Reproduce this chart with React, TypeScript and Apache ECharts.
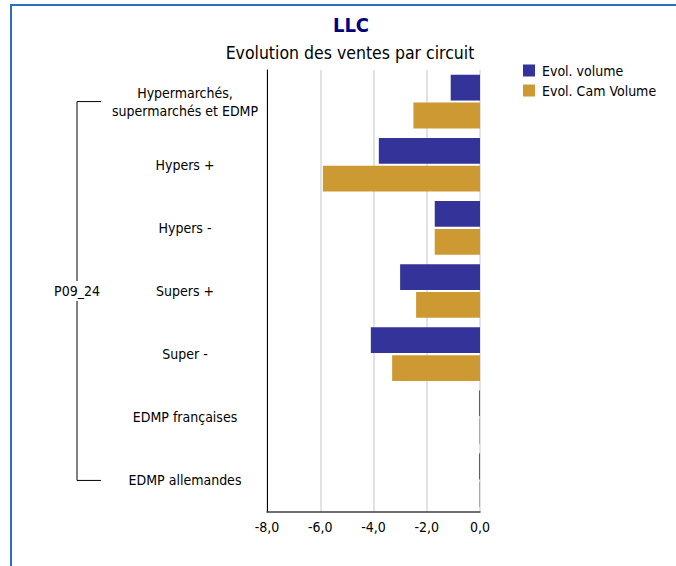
import React, { useEffect, useRef } from "react";
import * as echarts from "echarts";

const categories = [
  "Hypermarchés,\nsupermarchés et EDMP",
  "Hypers +",
  "Hypers -",
  "Supers +",
  "Super -",
  "EDMP françaises",
  "EDMP allemandes",
];
const evolVolume = [-1.1, -3.8, -1.7, -3.0, -4.1, -0.03, -0.03];
const evolCamVolume = [-2.5, -5.9, -1.7, -2.4, -3.3, -0.03, -0.03];
const seriesNames = ["Evol. volume", "Evol. Cam Volume"];
const groupLabel = "P09_24";
const xTicks = { min: -8, max: 0, interval: 2 };

const FONT = "'DejaVu Sans Condensed', 'DejaVu Sans', sans-serif";

export default function App() {
  const ref = useRef<HTMLDivElement>(null);
  useEffect(() => {
    document.body.style.margin = "0";
    const chart = echarts.init(ref.current!, null, { renderer: "svg" });
    const option: any = {
      animation: false,
      backgroundColor: "#ffffff",
      textStyle: { fontFamily: FONT },
      grid: { left: 267, right: 196, top: 70, bottom: 54, containLabel: false },
      legend: {
        orient: "vertical",
        left: 523,
        top: 62,
        padding: 0,
        icon: "rect",
        itemWidth: 12,
        itemHeight: 12,
        itemGap: 3,
        textStyle: { fontFamily: FONT, fontSize: 14, color: "#000", lineHeight: 17, padding: [0, 0, 0, 2] },
        data: seriesNames,
      },
      xAxis: {
        type: "value",
        min: xTicks.min,
        max: xTicks.max,
        interval: xTicks.interval,
        axisLine: { show: true, lineStyle: { color: "#404040", width: 1.5 } },
        axisTick: { show: false },
        axisLabel: {
          color: "#000",
          fontSize: 14,
          fontFamily: FONT,
          margin: 8,
          formatter: (v: number) => v.toFixed(1).replace(".", ","),
        },
        splitLine: { show: true, lineStyle: { color: "#d9d9d9", width: 1.5 } },
      },
      yAxis: {
        type: "category",
        inverse: true,
        data: categories,
        axisLine: { show: true, onZero: false, lineStyle: { color: "#000", width: 1 } },
        axisTick: { show: false },
        axisLabel: {
          color: "#000",
          fontSize: 14,
          fontFamily: FONT,
          align: "center",
          margin: 82,
          lineHeight: 18,
        },
        splitLine: { show: false },
      },
      series: [
        {
          name: seriesNames[0],
          type: "bar",
          data: evolVolume,
          itemStyle: { color: "#333399" },
          barGap: "8%",
          barCategoryGap: "15%",
        },
        {
          name: seriesNames[1],
          type: "bar",
          data: evolCamVolume,
          itemStyle: { color: "#CC9933" },
          barGap: "8%",
          barCategoryGap: "15%",
        },
      ],
    };
    chart.setOption(option);

    const yTop = chart.convertToPixel({ yAxisIndex: 0 }, 0) as number;
    const yBot = chart.convertToPixel({ yAxisIndex: 0 }, categories.length - 1) as number;
    const yMid = (yTop + yBot) / 2;
    const bx = 77;
    const bx2 = 101;
    const lineStyle = { stroke: "#000", lineWidth: 1 };
    chart.setOption({
      graphic: [
        { type: "rect", shape: { x: 10, y: 4, width: 700, height: 2 }, style: { fill: "#2a6fc2" }, silent: true },
        { type: "rect", shape: { x: 10, y: 4, width: 2, height: 600 }, style: { fill: "#2a6fc2" }, silent: true },
        {
          type: "text",
          x: 351,
          y: 25,
          style: { text: "LLC", fontFamily: FONT, fontSize: 20, fontWeight: "bold", fill: "#000080", textAlign: "center", textVerticalAlign: "middle" },
        },
        {
          type: "text",
          x: 350,
          y: 53,
          style: { text: "Evolution des ventes par circuit", fontFamily: FONT, fontSize: 17.5, fill: "#000", textAlign: "center", textVerticalAlign: "middle" },
        },
        { type: "line", shape: { x1: bx, y1: yTop, x2: bx2, y2: yTop }, style: lineStyle },
        { type: "line", shape: { x1: bx, y1: yBot, x2: bx2, y2: yBot }, style: lineStyle },
        { type: "line", shape: { x1: bx, y1: yTop, x2: bx, y2: yMid - 10 }, style: lineStyle },
        { type: "line", shape: { x1: bx, y1: yMid + 10, x2: bx, y2: yBot }, style: lineStyle },
        {
          type: "text",
          x: bx,
          y: yMid,
          style: { text: groupLabel, fontFamily: FONT, fontSize: 14, fill: "#000", textAlign: "center", textVerticalAlign: "middle" },
        },
      ],
    });
    return () => chart.dispose();
  }, []);
  return (
    <div style={{ position: "absolute", left: 0, top: 0, width: 676, height: 566 }}>
      <div ref={ref} style={{ width: 676, height: 566 }} />
    </div>
  );
}
